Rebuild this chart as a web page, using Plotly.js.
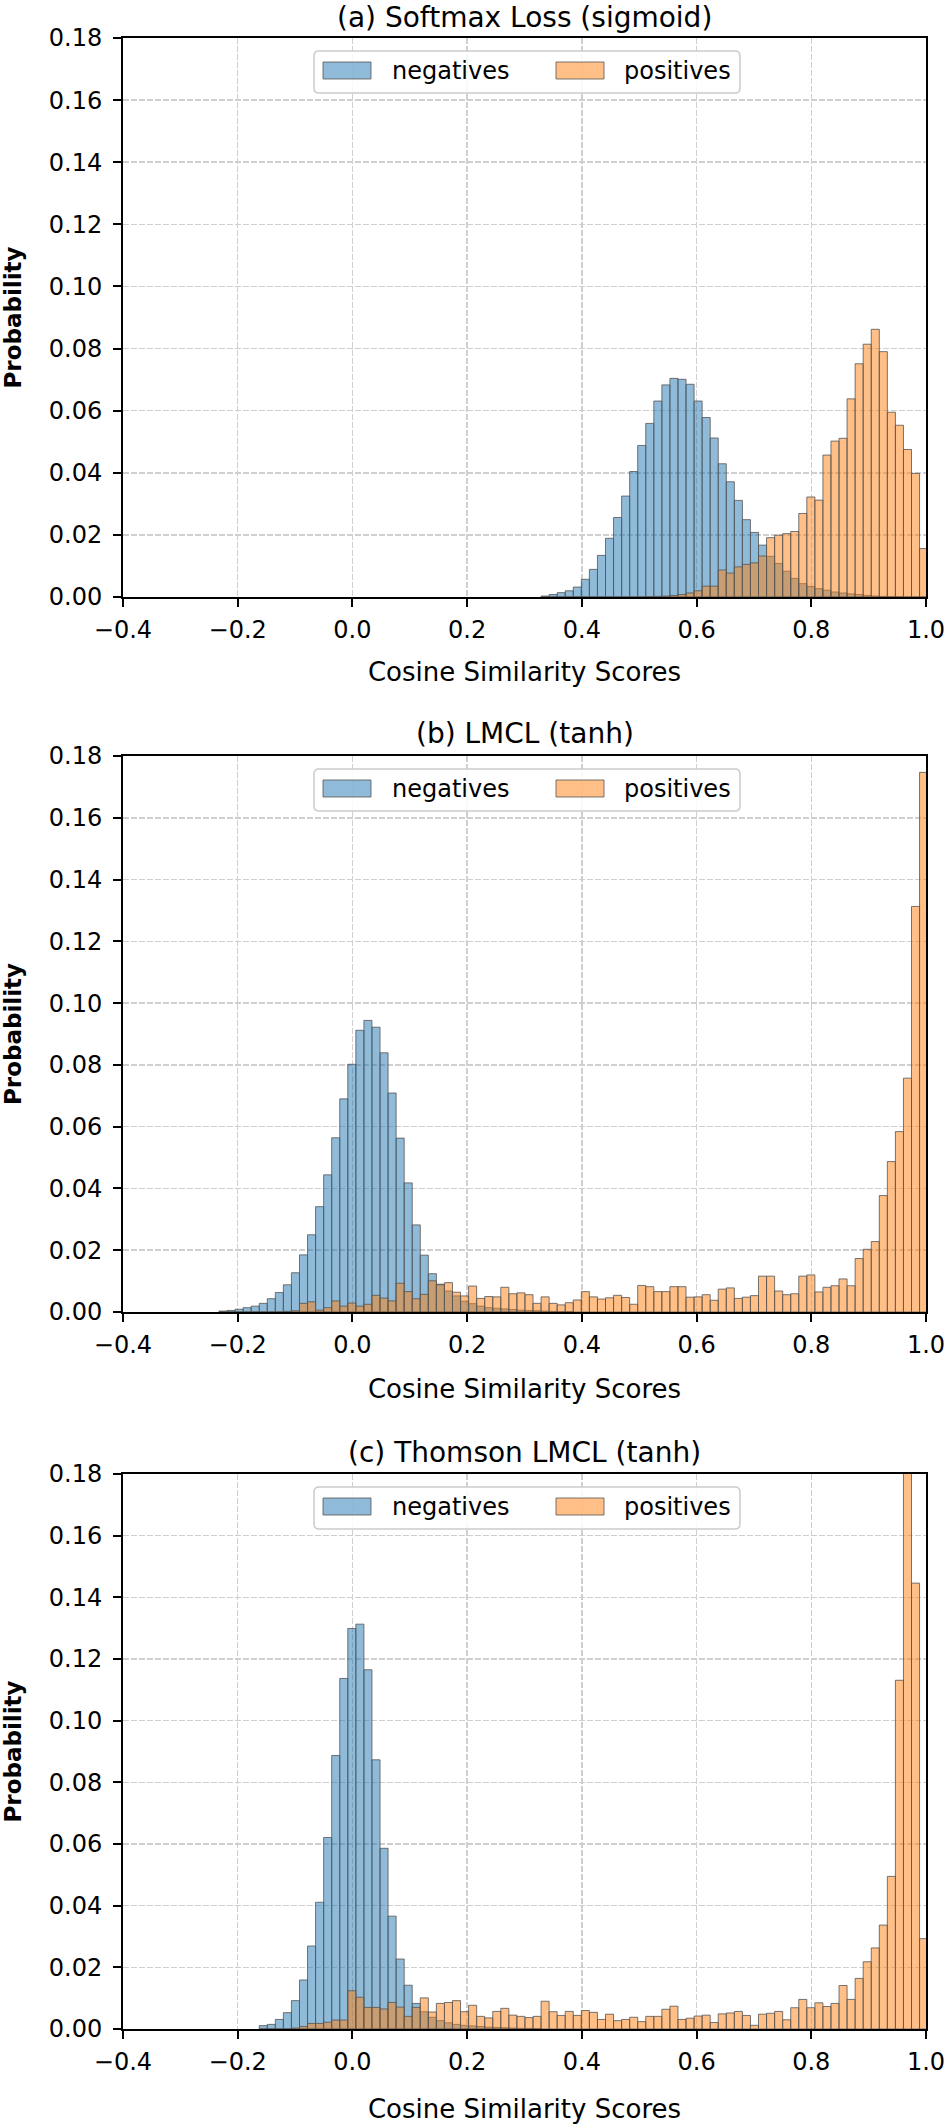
<!DOCTYPE html>
<html>
<head>
<meta charset="utf-8">
<script src="https://cdn.plot.ly/plotly-3.0.1.min.js"></script>
<style>
  html, body { margin: 0; padding: 0; background: #ffffff; }
  #chart { width: 952px; height: 2124px; }
</style>
</head>
<body>
<div id="chart"></div>
<script>
// ---------------- data ----------------
const panelTitles = ["(a) Softmax Loss (sigmoid)", "(b) LMCL (tanh)", "(c) Thomson LMCL (tanh)"];
const seriesNames = ["negatives", "positives"];
const xLabel = "Cosine Similarity Scores";
const yLabel = "Probability";
const xTickVals = [-0.4, -0.2, 0.0, 0.2, 0.4, 0.6, 0.8, 1.0];
const xTickText = ["\u22120.4", "\u22120.2", "0.0", "0.2", "0.4", "0.6", "0.8", "1.0"];
const yTickVals = [0, 0.02, 0.04, 0.06, 0.08, 0.10, 0.12, 0.14, 0.16, 0.18];
const yTickText = ["0.00", "0.02", "0.04", "0.06", "0.08", "0.10", "0.12", "0.14", "0.16", "0.18"];

// histogram bins: common width, left edge of the first listed bin per panel
const binWidth = 0.01404;
const binStartA = 0.3289;
const binStartB = -0.2327;
const binStartC = -0.1625;

// (a) Softmax Loss (sigmoid)
const negA = [0.0003,0.0008,0.0014,0.0020,0.0032,0.0057,0.0089,0.0134,0.0189,0.0256,
              0.0325,0.0404,0.0488,0.0559,0.0631,0.0683,0.0704,0.0701,0.0685,0.0631,
              0.0578,0.0512,0.0429,0.0371,0.0311,0.0249,0.0208,0.0167,0.0131,0.0108,
              0.0083,0.0060,0.0043,0.0034,0.0027,0.0022,0.0016,0.0013,0.0010,0.0008,
              0.0005,0.0003,0.0002,0.0001,0.0001,0,0,0];
const posA = [0,0,0,0,0,0,0,0,0,0,
              0,0,0,0.0001,0.0002,0.0003,0.0005,0.0008,0.0013,0.0020,
              0.0035,0.0035,0.0087,0.0077,0.0097,0.0105,0.0110,0.0132,0.0191,0.0199,
              0.0204,0.0211,0.0269,0.0322,0.0312,0.0457,0.0502,0.0511,0.0638,0.0751,
              0.0814,0.0862,0.0790,0.0595,0.0553,0.0475,0.0398,0.0156];

// (b) LMCL (tanh)
const negB = [0.0003,0.0005,0.0009,0.0014,0.0019,0.0028,0.0043,0.0063,0.0088,0.0127,
              0.0185,0.0250,0.0341,0.0444,0.0564,0.0690,0.0802,0.0912,0.0944,0.0922,
              0.0839,0.0709,0.0563,0.0418,0.0282,0.0184,0.0124,0.0090,0.0068,0.0052,
              0.0035,0.0027,0.0019,0.0014,0.0012,0.0010,0.0008,0.0006,0.0005,0.0004,
              0.0003,0.0002,0.0001,0.0001];
const posB = [0,0,0,0,0,0,0,0,0.0002,0.0004,
              0.0028,0.0033,0.0006,0.0014,0.0036,0.0019,0.0029,0.0019,0.0025,0.0054,
              0.0045,0.0036,0.0093,0.0066,0.0043,0.0057,0.0101,0.0088,0.0095,0.0064,
              0.0052,0.0084,0.0044,0.0050,0.0049,0.0080,0.0059,0.0062,0.0056,0.0028,
              0.0049,0.0028,0.0023,0.0030,0.0039,0.0066,0.0049,0.0042,0.0046,0.0054,
              0.0047,0.0025,0.0086,0.0082,0.0066,0.0066,0.0082,0.0082,0.0048,0.0049,
              0.0056,0.0038,0.0074,0.0078,0.0044,0.0048,0.0053,0.0116,0.0116,0.0068,
              0.0056,0.0059,0.0116,0.0120,0.0065,0.0080,0.0085,0.0107,0.0085,0.0173,
              0.0203,0.0228,0.0377,0.0487,0.0584,0.0757,0.1313,0.1747];

// (c) Thomson LMCL (tanh)
const negC = [0.0011,0.0015,0.0031,0.0053,0.0092,0.0159,0.0269,0.0411,0.0621,0.0887,
              0.1137,0.1299,0.1313,0.1165,0.0873,0.0586,0.0366,0.0227,0.0142,0.0083,
              0.0056,0.0038,0.0027,0.0020,0.0015,0.0012,0.0010,0.0008,0.0006,0.0005,
              0.0004,0.0003,0.0002,0.0002,0.0001];
const posC = [0,0,0,0,0.0003,0.0008,0.0018,0.0018,0.0022,0.0029,
              0.0029,0.0124,0.0103,0.0070,0.0070,0.0065,0.0086,0.0071,0.0041,0.0070,
              0.0101,0.0055,0.0083,0.0086,0.0092,0.0056,0.0077,0.0041,0.0036,0.0057,
              0.0067,0.0045,0.0041,0.0037,0.0041,0.0090,0.0056,0.0044,0.0057,0.0044,
              0.0060,0.0054,0.0031,0.0048,0.0027,0.0031,0.0038,0.0024,0.0041,0.0041,
              0.0064,0.0074,0.0031,0.0035,0.0042,0.0045,0.0021,0.0049,0.0052,0.0057,
              0.0044,0.0012,0.0048,0.0051,0.0057,0.0030,0.0069,0.0096,0.0069,0.0085,
              0.0073,0.0083,0.0141,0.0096,0.0164,0.0218,0.0263,0.0337,0.0495,0.1131,
              0.1900,0.1446,0.0293];

// ---------------- figure ----------------
const W = 952, H = 2124;
const FONT = "DejaVu Sans, Verdana, sans-serif";
const negFill = "rgba(31,119,180,0.5)";
const posFill = "rgba(255,127,14,0.5)";
const edge = "rgba(85,85,85,0.8)";

const plotLeft = 123, plotRight = 926;
const panels = [
  {top: 38,   bottom: 597,  titleY: 18,   neg: negA, pos: posA, start: binStartA, xTitleStand: 20},
  {top: 756,  bottom: 1312, titleY: 734,  neg: negB, pos: posB, start: binStartB, xTitleStand: 22},
  {top: 1474, bottom: 2029, titleY: 1452, neg: negC, pos: posC, start: binStartC, xTitleStand: 26}
];

function px2x(p) { return p / W; }
function px2y(p) { return 1 - p / H; }
function centers(start, n) {
  const out = [];
  for (let i = 0; i < n; i++) out.push(start + (i + 0.5) * binWidth);
  return out;
}
function roundRect(x0, y0, x1, y1, r) {
  const X = px2x, Y = px2y;
  return `M${X(x0 + r)},${Y(y0)} L${X(x1 - r)},${Y(y0)} Q${X(x1)},${Y(y0)} ${X(x1)},${Y(y0 + r)} ` +
         `L${X(x1)},${Y(y1 - r)} Q${X(x1)},${Y(y1)} ${X(x1 - r)},${Y(y1)} ` +
         `L${X(x0 + r)},${Y(y1)} Q${X(x0)},${Y(y1)} ${X(x0)},${Y(y1 - r)} ` +
         `L${X(x0)},${Y(y0 + r)} Q${X(x0)},${Y(y0)} ${X(x0 + r)},${Y(y0)} Z`;
}

const data = [];
const layout = {
  width: W, height: H,
  margin: {l: 0, r: 0, t: 0, b: 0},
  paper_bgcolor: "#ffffff",
  plot_bgcolor: "#ffffff",
  barmode: "overlay",
  bargap: 0,
  showlegend: false,
  font: {family: FONT, color: "#000000", size: 24},
  annotations: [],
  shapes: []
};

panels.forEach((p, k) => {
  const sfx = k === 0 ? "" : String(k + 1);
  const xa = "x" + sfx, ya = "y" + sfx;
  data.push({
    type: "bar", name: seriesNames[0], xaxis: xa, yaxis: ya,
    x: centers(p.start, p.neg.length), y: p.neg, width: binWidth,
    marker: {color: negFill, line: {color: edge, width: 1}},
    hoverinfo: "x+y"
  });
  data.push({
    type: "bar", name: seriesNames[1], xaxis: xa, yaxis: ya,
    x: centers(p.start, p.pos.length), y: p.pos, width: binWidth,
    marker: {color: posFill, line: {color: edge, width: 1}},
    hoverinfo: "x+y"
  });

  const common = {
    showline: true, linecolor: "#000000", linewidth: 2, mirror: true,
    ticks: "outside", ticklen: 8, tickwidth: 2, tickcolor: "#000000",
    showgrid: true, gridcolor: "#cfcfcf", gridwidth: 1.5, griddash: "6px,2px",
    zeroline: false, automargin: false,
    tickfont: {family: FONT, size: 24, color: "#000000"}
  };
  layout["xaxis" + sfx] = Object.assign({}, common, {
    domain: [px2x(plotLeft), px2x(plotRight)],
    anchor: ya, range: [-0.4, 1.0],
    tickmode: "array", tickvals: xTickVals, ticktext: xTickText,
    ticklabelstandoff: 2,
    title: {text: xLabel, font: {family: FONT, size: 26, color: "#000000"}, standoff: p.xTitleStand}
  });
  layout["yaxis" + sfx] = Object.assign({}, common, {
    domain: [px2y(p.bottom), px2y(p.top)],
    anchor: xa, range: [0, 0.18],
    tickmode: "array", tickvals: yTickVals, ticktext: yTickText,
    ticklabelstandoff: 6,
    title: {text: yLabel, font: {family: FONT, size: 23, color: "#000000", weight: "bold"}, standoff: 26}
  });

  // panel title
  layout.annotations.push({
    xref: "paper", yref: "paper", x: px2x((plotLeft + plotRight) / 2), y: px2y(p.titleY),
    xanchor: "center", yanchor: "middle", showarrow: false,
    text: panelTitles[k], font: {family: FONT, size: 28, color: "#000000"}
  });

  // legend (box, patches, labels)
  const T = p.top;
  layout.shapes.push({
    type: "path", xref: "paper", yref: "paper",
    path: roundRect(314, T + 13, 740, T + 55, 5),
    fillcolor: "rgba(255,255,255,0.85)", line: {color: "#cccccc", width: 1.5}
  });
  layout.shapes.push({
    type: "rect", xref: "paper", yref: "paper",
    x0: px2x(323), x1: px2x(371), y0: px2y(T + 41), y1: px2y(T + 24),
    fillcolor: negFill, line: {color: edge, width: 1}
  });
  layout.shapes.push({
    type: "rect", xref: "paper", yref: "paper",
    x0: px2x(556), x1: px2x(604), y0: px2y(T + 41), y1: px2y(T + 24),
    fillcolor: posFill, line: {color: edge, width: 1}
  });
  layout.annotations.push({
    xref: "paper", yref: "paper", x: px2x(390), y: px2y(T + 33),
    xanchor: "left", yanchor: "middle", showarrow: false,
    text: seriesNames[0], font: {family: FONT, size: 24, color: "#000000"}
  });
  layout.annotations.push({
    xref: "paper", yref: "paper", x: px2x(622), y: px2y(T + 33),
    xanchor: "left", yanchor: "middle", showarrow: false,
    text: seriesNames[1], font: {family: FONT, size: 24, color: "#000000"}
  });
});

Plotly.newPlot("chart", data, layout, {staticPlot: true, displayModeBar: false});
</script>
</body>
</html>
